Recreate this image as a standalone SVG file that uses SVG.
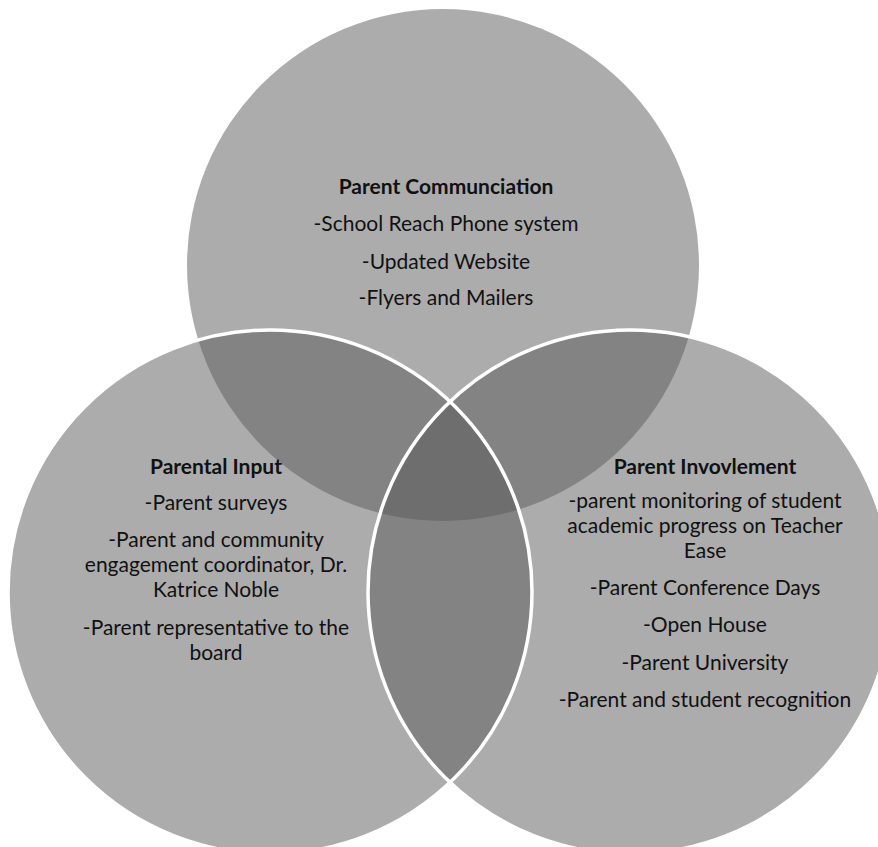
<svg xmlns="http://www.w3.org/2000/svg" width="878" height="847" viewBox="0 0 878 847">
<style>
.c{fill:#5a5a5a;fill-opacity:.5}
.o{fill:none;stroke:#fff;stroke-width:3.5}
text{font-family:Lato,"Liberation Sans",sans-serif;font-size:21px;fill:#111;text-anchor:middle}
.h{font-weight:bold}
</style>
<rect width="878" height="847" fill="#fff"/>
<g id="parent-communication">
<circle class="c" cx="443" cy="265" r="256"/>
</g>
<g id="parental-input">
<circle class="c" cx="270" cy="592" r="262"/>
</g>
<g id="parent-involvement">
<circle class="c" cx="630" cy="592" r="262"/>
</g>
<g id="outlines">
<circle class="o" cx="270" cy="592" r="262"/>
<circle class="o" cx="630" cy="592" r="262"/>
</g>
<g id="text-communication">
<text class="h" x="446" y="194">Parent Communciation</text>
<text x="446" y="231">-School Reach Phone system</text>
<text x="446" y="269">-Updated Website</text>
<text x="446" y="305">-Flyers and Mailers</text>
</g>
<g id="text-input">
<text class="h" x="216" y="474">Parental Input</text>
<text x="216" y="510">-Parent surveys</text>
<text x="216" y="547">-Parent and community</text>
<text x="216" y="572">engagement coordinator, Dr.</text>
<text x="216" y="597">Katrice Noble</text>
<text x="216" y="635">-Parent representative to the</text>
<text x="216" y="660">board</text>
</g>
<g id="text-involvement">
<text class="h" x="705" y="474">Parent Invovlement</text>
<text x="705" y="508">-parent monitoring of student</text>
<text x="705" y="533">academic progress on Teacher</text>
<text x="705" y="558">Ease</text>
<text x="705" y="595">-Parent Conference Days</text>
<text x="705" y="632">-Open House</text>
<text x="705" y="670">-Parent University</text>
<text x="705" y="707">-Parent and student recognition</text>
</g>
</svg>
